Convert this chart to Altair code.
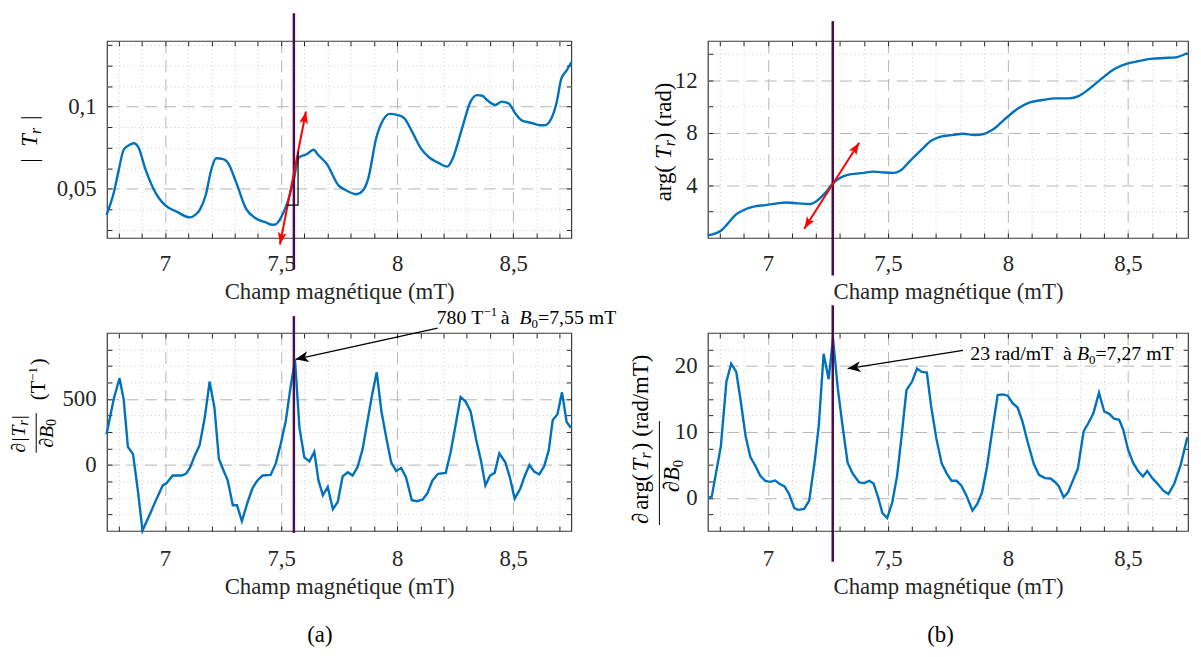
import math
import altair as alt
import pandas as pd

# ------------------------------------------------------------------ data
field_tl = [6.748, 6.78, 6.80, 6.822, 6.845, 6.865, 6.886, 6.915, 6.95, 6.975,
            7.0, 7.05, 7.107, 7.13, 7.149, 7.175, 7.2, 7.22, 7.25, 7.27,
            7.306, 7.348, 7.39, 7.434, 7.462, 7.477, 7.498, 7.526, 7.555, 7.576,
            7.61, 7.64, 7.66, 7.697, 7.747, 7.775, 7.825, 7.853, 7.875, 7.91,
            7.94, 7.967, 8.003, 8.03, 8.067, 8.1, 8.138, 8.174, 8.216, 8.238,
            8.28, 8.316, 8.344, 8.366, 8.387, 8.423, 8.45, 8.48, 8.508, 8.536,
            8.58, 8.615, 8.636, 8.665, 8.686, 8.707, 8.73, 8.75]
mod_tl = [0.034, 0.048, 0.061, 0.0737, 0.0765, 0.0777, 0.075, 0.062, 0.050, 0.044,
          0.040, 0.036, 0.0325, 0.034, 0.037, 0.046, 0.062, 0.0685, 0.068, 0.066,
          0.054, 0.038, 0.032, 0.0295, 0.028, 0.0283, 0.032, 0.041, 0.056, 0.069,
          0.071, 0.0737, 0.0705, 0.065, 0.052, 0.0494, 0.0466, 0.049, 0.056, 0.081,
          0.092, 0.0956, 0.0948, 0.093, 0.084, 0.075, 0.069, 0.066, 0.0634, 0.068,
          0.087, 0.103, 0.107, 0.1066, 0.104, 0.101, 0.103, 0.102, 0.096, 0.0916,
          0.090, 0.0886, 0.0886, 0.093, 0.102, 0.117, 0.122, 0.127]

field_tr = [6.749, 6.776, 6.804, 6.831, 6.865, 6.9, 6.94, 6.989, 7.037, 7.078,
            7.126, 7.174, 7.202, 7.236, 7.27, 7.298, 7.332, 7.387, 7.442, 7.484,
            7.525, 7.552, 7.593, 7.641, 7.683, 7.717, 7.772, 7.813, 7.861, 7.902,
            7.937, 7.992, 8.04, 8.088, 8.143, 8.198, 8.253, 8.294, 8.335, 8.39,
            8.445, 8.493, 8.541, 8.596, 8.651, 8.699, 8.747]
phase_tr = [0.2, 0.3, 0.55, 1.05, 1.75, 2.13, 2.38, 2.5, 2.63, 2.7,
            2.63, 2.58, 2.8, 3.38, 4.13, 4.55, 4.8, 4.93, 5.05, 4.98,
            4.95, 5.13, 5.88, 6.75, 7.43, 7.7, 7.85, 7.93, 7.83, 7.93,
            8.25, 9.13, 9.83, 10.3, 10.5, 10.63, 10.63, 10.8, 11.3, 12.13,
            12.88, 13.25, 13.45, 13.63, 13.7, 13.75, 14.08]

field_bl = [6.748, 6.78, 6.804, 6.822, 6.84, 6.862, 6.882, 6.903, 6.936, 6.964,
            6.99, 7.007, 7.033, 7.071, 7.09, 7.107, 7.128, 7.149, 7.171, 7.192,
            7.213, 7.232, 7.252, 7.27, 7.292, 7.31, 7.331, 7.356, 7.377, 7.398,
            7.42, 7.455, 7.477, 7.498, 7.52, 7.54, 7.56, 7.579, 7.6, 7.622,
            7.643, 7.661, 7.68, 7.701, 7.723, 7.744, 7.765, 7.787, 7.808, 7.829,
            7.851, 7.872, 7.892, 7.912, 7.932, 7.953, 7.974, 7.996, 8.017, 8.038,
            8.063, 8.085, 8.11, 8.131, 8.152, 8.176, 8.209, 8.23, 8.252, 8.273,
            8.294, 8.316, 8.34, 8.361, 8.38, 8.4, 8.42, 8.44, 8.466, 8.485,
            8.506, 8.53, 8.55, 8.57, 8.59, 8.612, 8.633, 8.653, 8.67, 8.69,
            8.71, 8.73, 8.748]
dmod_bl = [232, 507, 657, 495, 137, 82, -180, -497, -367, -255,
           -155, -137, -80, -80, -67, -22, 70, 150, 357, 632,
           432, 45, -42, -117, -305, -305, -425, -280, -175, -117,
           -80, -75, 12, 157, 332, 582, 795, 282, 57, 27,
           100, -117, -230, -167, -335, -280, -87, -55, -80, -17,
           120, 332, 532, 702, 407, 207, 20, -47, -22, -92,
           -267, -275, -262, -212, -117, -67, -60, 95, 307, 515,
           482, 407, 195, 32, -155, -80, -60, 87, 20, -92,
           -255, -180, -80, 0, -50, -72, -10, 112, 340, 382,
           550, 325, 282]

field_br = [6.755, 6.766, 6.804, 6.827, 6.847, 6.868, 6.886, 6.907, 6.927, 6.948,
            6.968, 6.989, 7.01, 7.03, 7.05, 7.069, 7.088, 7.11, 7.126, 7.151,
            7.172, 7.195, 7.212, 7.232, 7.253, 7.271, 7.291, 7.312, 7.332, 7.353,
            7.38, 7.401, 7.422, 7.44, 7.459, 7.477, 7.497, 7.518, 7.538, 7.556,
            7.577, 7.6, 7.621, 7.641, 7.662, 7.679, 7.701, 7.724, 7.745, 7.765,
            7.786, 7.806, 7.827, 7.852, 7.872, 7.892, 7.912, 7.934, 7.957, 7.978,
            7.999, 8.019, 8.04, 8.06, 8.081, 8.108, 8.129, 8.154, 8.177, 8.198,
            8.212, 8.232, 8.25, 8.271, 8.291, 8.315, 8.335, 8.356, 8.379, 8.401,
            8.422, 8.442, 8.463, 8.48, 8.5, 8.521, 8.541, 8.562, 8.58, 8.599,
            8.624, 8.647, 8.668, 8.692, 8.72, 8.747]
dphase_br = [0.1, 0.2, 7.85, 17.6, 20.35, 19.1, 14.85, 9.35, 6.2, 4.85,
             3.35, 2.6, 2.45, 2.65, 2.1, 1.75, 0.6, -1.55, -1.8, -1.65,
             -0.4, 5.6, 11.0, 21.85, 18.0, 24.2, 16.6, 10.6, 5.35, 3.7,
             2.35, 2.25, 2.6, 2.2, 0.1, -2.3, -3.05, -0.65, 3.35, 9.1,
             16.35, 17.6, 19.6, 19.1, 19.0, 14.1, 9.1, 5.2, 3.7, 2.6,
             2.6, 1.85, 0.35, -1.9, -0.9, 0.85, 4.6, 10.1, 15.6, 15.7,
             15.5, 14.35, 13.7, 11.6, 8.6, 5.1, 3.5, 3.0, 2.95, 2.35,
             1.75, 0.1, 0.85, 2.7, 4.45, 10.1, 11.35, 12.85, 15.95, 13.1,
             12.75, 12.0, 11.85, 10.35, 7.35, 5.35, 4.1, 3.25, 4.1, 3.1,
             2.1, 1.1, 0.6, 2.1, 5.1, 9.2]

# axes / ticks
x_domain = [6.75, 8.75]
x_major = [7, 7.5, 8, 8.5]
x_minor = [6.8, 6.9, 7.1, 7.2, 7.3, 7.4, 7.6, 7.7, 7.8, 7.9, 8.1, 8.2, 8.3, 8.4, 8.6, 8.7]
tl_y_domain = [0.02, 0.14]
tl_y_major = [0.05, 0.1]
tl_y_minor = [0.025, 0.0375, 0.0625, 0.075, 0.0875, 0.1125, 0.125, 0.1375]
tr_y_domain = [0, 15]
tr_y_major = [4, 8, 12]
tr_y_minor = [2, 6, 10, 14]
bl_y_domain = [-500, 1000]
bl_y_major = [0, 500]
bl_y_minor = [-375, -250, -125, 125, 250, 375, 625, 750, 875]
br_y_domain = [-5, 25]
br_y_major = [0, 10, 20]
br_y_minor = [-2.5, 2.5, 5, 7.5, 12.5, 15, 17.5, 22.5]

# markers and annotations (data coordinates)
marker_tl = 7.555
marker_tr = 7.27
tangent_tl_x = [7.495, 7.607]
tangent_tl_y = [0.016, 0.097]
step_tl_x = [7.526, 7.573, 7.573]
step_tl_y = [0.04, 0.04, 0.0725]
tangent_tr_x = [7.151, 7.38]
tangent_tr_y = [0.7, 7.25]
pointer_bl_x = [8.174, 7.562]
pointer_bl_y = [1037, 800]
pointer_br_x = [7.813, 7.332]
pointer_br_y = [22.35, 19.6]

# ------------------------------------------------------------------ style
SERIF = "Liberation Serif"
FS = 23
BLUE = "#0072BD"
PURPLE = "#4d0a4f"
GRID_MAJOR = "#b4b4b4"
GRID_MINOR = "#cdcdcd"
INK = "#262626"
BOX = "#3a3a3a"
RED_HEAD = "M0,0L-0.36,1L0,0.78L0.36,1Z"
BLACK_HEAD = "M0,0L-0.42,1L0,0.72L0.42,1Z"
NB = "\u00a0"

W_L, W_R = 469, 485
H_T, H_B = 199, 200
ORIG = {"tl": (106, 36), "tr": (713, 36), "bl": (106, 331), "br": (713, 331)}
LABEL_EXPR = "replace(toString(datum.value), '.', ',')"

# Times-compatible advance widths (per 1000 em) for laying out rich text pieces
NW = {" ": 250, NB: 250, "(": 333, ")": 333, ",": 250, "-": 333, "\u2212": 700, ".": 250, "/": 278,
      "=": 564, "|": 200, "\u2202": 494, "a": 444, "b": 500, "d": 500, "e": 444, "g": 500,
      "h": 500, "i": 278, "m": 778, "n": 500, "p": 500, "q": 500, "r": 333, "t": 278,
      "u": 500, "\u00e0": 444, "\u00e9": 444, "B": 667, "C": 667, "M": 889, "T": 611}
IW = {"T": 556, "B": 611, "r": 389}


def text_width(s, size, italic):
    return sum((IW.get(c) if italic and c in IW else NW.get(c, 500)) for c in s) * size / 1000.0


def seg_rows(x0, y0, vertical, segs):
    rows, pos = [], 0.0
    for seg in segs:
        if isinstance(seg, (int, float)):
            pos += seg
            continue
        text, size, italic, shift = seg
        if vertical:
            x, y, ang = x0 + shift, y0 - pos, 270
        else:
            x, y, ang = x0 + pos, y0 + shift, 0
        rows.append(dict(t=text.replace(" ", NB), px=x, py=y, fs=size, it=italic, ang=ang))
        pos += text_width(text, size, italic)
    return rows


def centered(cx, y, text, size):
    return seg_rows(cx - text_width(text, size, False) / 2, y, False, [(text, size, False, 0)])


def head_angle(x0, y0, x1, y1, W, H, ydom):
    sx = W / (x_domain[1] - x_domain[0])
    sy = H / (ydom[1] - ydom[0])
    return math.degrees(math.atan2((x1 - x0) * sx, (y1 - y0) * sy)) % 360


def panel(key, xv, yv, ydom, y_major, y_minor, W, H, interp, marker, span,
          arrows, rows, bars, pin=False):
    ox, oy = ORIG[key]
    xs = alt.Scale(domain=x_domain, nice=False, zero=False)
    ys = alt.Scale(domain=ydom, nice=False, zero=False)

    def X(ax, f="x"):
        return alt.X(f + ":Q", scale=xs, axis=ax)

    def Y(ax, f="y"):
        return alt.Y(f + ":Q", scale=ys, axis=ax)

    df = pd.DataFrame({"x": xv, "y": yv})
    x_ticks = sorted(x_major + x_minor)
    y_ticks = sorted(y_major + y_minor)
    gmaj = dict(grid=True, gridColor=GRID_MAJOR, gridDash=[12, 7], gridWidth=1,
                ticks=False, tickSize=0, domain=False)
    gmin = dict(grid=True, gridColor=GRID_MINOR, gridDash=[1, 3], gridWidth=1,
                ticks=False, tickSize=0, labels=False, domain=False, title=None)
    tk = dict(grid=False, labels=False, ticks=True, tickSize=5, tickColor=INK,
              tickWidth=1, domain=False, title=None, offset=-5)
    lab_pad = 15 if H == H_T else 17

    layers = []
    layers.append(alt.Chart(df).mark_line(color=BLUE, strokeWidth=2.4, interpolate=interp).encode(
        x=X(alt.Axis(orient="bottom", values=x_major, labelExpr=LABEL_EXPR, labelPadding=lab_pad,
                     title="Champ magn\u00e9tique (mT)", titlePadding=5, **gmaj)),
        y=Y(alt.Axis(orient="left", values=y_major, labelExpr=LABEL_EXPR, labelPadding=11,
                     title=None, **gmaj))))
    ghost = alt.Chart(df).mark_point(opacity=0)
    layers.append(ghost.encode(x=X(alt.Axis(orient="bottom", values=x_minor, **gmin)),
                               y=Y(alt.Axis(orient="left", values=y_minor, **gmin))))
    layers.append(ghost.encode(x=X(alt.Axis(orient="bottom", values=x_ticks, **tk)),
                               y=Y(alt.Axis(orient="left", values=y_ticks, **tk))))
    layers.append(ghost.encode(x=X(alt.Axis(orient="top", values=x_ticks, **tk)),
                               y=Y(alt.Axis(orient="right", values=y_ticks, **tk))))

    # vertical marker line
    layers.append(alt.Chart(pd.DataFrame({"x": [marker]})).mark_rule(
        color=PURPLE, strokeWidth=2.5).encode(x=X(None), y=alt.value(span[0]), y2=alt.value(span[1])))

    # arrows / helper lines
    for a in arrows:
        adf = pd.DataFrame({"x": a["x"], "y": a["y"], "o": list(range(len(a["x"])))})
        layers.append(alt.Chart(adf).mark_line(color=a["color"], strokeWidth=a["width"]).encode(
            x=X(None), y=Y(None), order="o:Q"))
        tips = []
        for (i_from, i_to) in a.get("heads", []):
            tips.append(dict(x=a["x"][i_to], y=a["y"][i_to],
                             ang=head_angle(a["x"][i_from], a["y"][i_from],
                                            a["x"][i_to], a["y"][i_to], W, H, ydom)))
        if tips:
            layers.append(alt.Chart(pd.DataFrame(tips)).mark_point(
                shape=a["shape"], filled=True, fill=a["color"], color=a["color"], opacity=1,
                strokeWidth=0, size=a["size"]).encode(
                x=X(None), y=Y(None), angle=alt.Angle("ang:Q", scale=None, legend=None)))

    # rich text pieces (converted from figure pixels to panel data coordinates)
    if rows:
        recs = []
        for r in rows:
            rx, ry = r["px"] - ox, r["py"] - oy
            recs.append(dict(x=x_domain[0] + rx / W * (x_domain[1] - x_domain[0]),
                             y=ydom[1] - ry / H * (ydom[1] - ydom[0]),
                             t=r["t"], fs=r["fs"], ang=r["ang"], it=r["it"]))
        tdf = pd.DataFrame(recs)
        for italic in (False, True):
            sub = tdf[tdf["it"] == italic].drop(columns=["it"])
            if len(sub) == 0:
                continue
            layers.append(alt.Chart(sub).mark_text(
                align="left", baseline="alphabetic", font=SERIF,
                fontStyle="italic" if italic else "normal", color="black").encode(
                x=X(None), y=Y(None), text="t:N",
                size=alt.Size("fs:Q", scale=None, legend=None),
                angle=alt.Angle("ang:Q", scale=None, legend=None)))

    for (bx, by1, by2) in bars:
        layers.append(alt.Chart(pd.DataFrame({"k": [0]})).mark_rule(color="black", strokeWidth=1).encode(
            x=alt.value(bx - ox), y=alt.value(by1 - oy), y2=alt.value(by2 - oy)))

    if pin:
        layers.append(alt.Chart(pd.DataFrame({"k": [0]})).mark_rule(strokeOpacity=0).encode(
            x=alt.value(-ox + 8), x2=alt.value(-ox + 9), y=alt.value(-oy + 8)))

    return alt.layer(*layers).resolve_axis(x="independent", y="independent").properties(width=W, height=H)


# ------------------------------------------------------------------ texts (figure pixel layout)
rows_tl = seg_rows(35, 159, True, [("|", FS, False, 0), 11.5, ("T", FS, True, 0), ("r", 16, True, 4),
                                   8, ("|", FS, False, 0)])
rows_tr = seg_rows(676, 198, True, [("arg( ", FS, False, 0), ("T", FS, True, 0), ("r", 16, True, 4),
                                    (" ) (rad)", FS, False, 0)])
rows_bl = (seg_rows(23, 452, True, [("\u2202", 20, False, 0), 1.5, ("|", 20, False, 0), 1,
                                    ("T", 20, True, 0), ("r", 14, True, 3), 1, ("|", 20, False, 0)])
           + seg_rows(51, 447, True, [("\u2202", 20, False, 0), ("B", 20, True, 0), ("0", 14, False, 3)])
           + seg_rows(43, 399, True, [("(", 21, False, 0), ("T", 21, False, 0), ("\u22121", 13, False, -8),
                                      (")", 21, False, 0)])
           + seg_rows(439, 322, False, [("780 T", 20, False, 0), ("\u22121", 13, False, -8), 2,
                                        (" \u00e0 ", 20, False, 0), ("B", 20, True, 0), ("0", 13, False, 4),
                                        ("=7,55 mT", 20, False, 0)])
           + centered(321, 643, "(a)", FS))
rows_br = (seg_rows(652, 524, True, [("\u2202", FS, False, 0), 3, ("arg(", FS, False, 0), 2,
                                     ("T", FS, True, 0), ("r", 16, True, 4), 2, (")", FS, False, 0), 6,
                                     ("(rad/mT)", FS, False, 0)])
           + seg_rows(684, 492, True, [("\u2202", FS, False, 0), ("B", FS, True, 0), ("0", 15, False, 4)])
           + seg_rows(978, 358, False, [("23 rad/mT  \u00e0 ", 20, False, 0), ("B", 20, True, 0),
                                        ("0", 13, False, 4), ("=7,27 mT", 20, False, 0)])
           + centered(948, 643, "(b)", FS))

arrows_tl = [
    dict(x=tangent_tl_x, y=tangent_tl_y, color="#ff0000", width=2, shape=RED_HEAD, size=600,
         heads=[(0, 1), (1, 0)]),
    dict(x=step_tl_x, y=step_tl_y, color="black", width=1.2),
]
arrows_tr = [dict(x=tangent_tr_x, y=tangent_tr_y, color="#ff0000", width=2, shape=RED_HEAD, size=600,
                  heads=[(0, 1), (1, 0)])]
arrows_bl = [dict(x=pointer_bl_x, y=pointer_bl_y, color="black", width=1.3, shape=BLACK_HEAD, size=700,
                  heads=[(0, 1)])]
arrows_br = [dict(x=pointer_br_x, y=pointer_br_y, color="black", width=1.3, shape=BLACK_HEAD, size=700,
                  heads=[(0, 1)])]

tl = panel("tl", field_tl, mod_tl, tl_y_domain, tl_y_major, tl_y_minor, W_L, H_T, "monotone",
           marker_tl, (-28, 231), arrows_tl, rows_tl, [], pin=True)
tr = panel("tr", field_tr, phase_tr, tr_y_domain, tr_y_major, tr_y_minor, W_R, H_T, "monotone",
           marker_tr, (-20, 237), arrows_tr, rows_tr, [])
bl = panel("bl", field_bl, dmod_bl, bl_y_domain, bl_y_major, bl_y_minor, W_L, H_B, "linear",
           marker_tl, (-17, 202), arrows_bl, rows_bl, [(34.5, 412, 452)])
br = panel("br", field_br, dphase_br, br_y_domain, br_y_major, br_y_minor, W_R, H_B, "linear",
           marker_tr, (-28, 231), arrows_br, rows_br, [(664, 420, 525)])

chart = alt.concat(tl, tr, bl, br, columns=2, spacing={"row": 96, "column": 138},
                   bounds="flush", align="each").properties(
    padding=0, background="white"
).configure_view(stroke=BOX, strokeWidth=1.2, fill="white").configure_axis(
    labelFont=SERIF, labelFontSize=FS, labelColor=INK,
    titleFont=SERIF, titleFontSize=FS, titleFontWeight="normal", titleColor=INK)

chart.save("out.html", embed_options={"renderer": "svg", "actions": False})
